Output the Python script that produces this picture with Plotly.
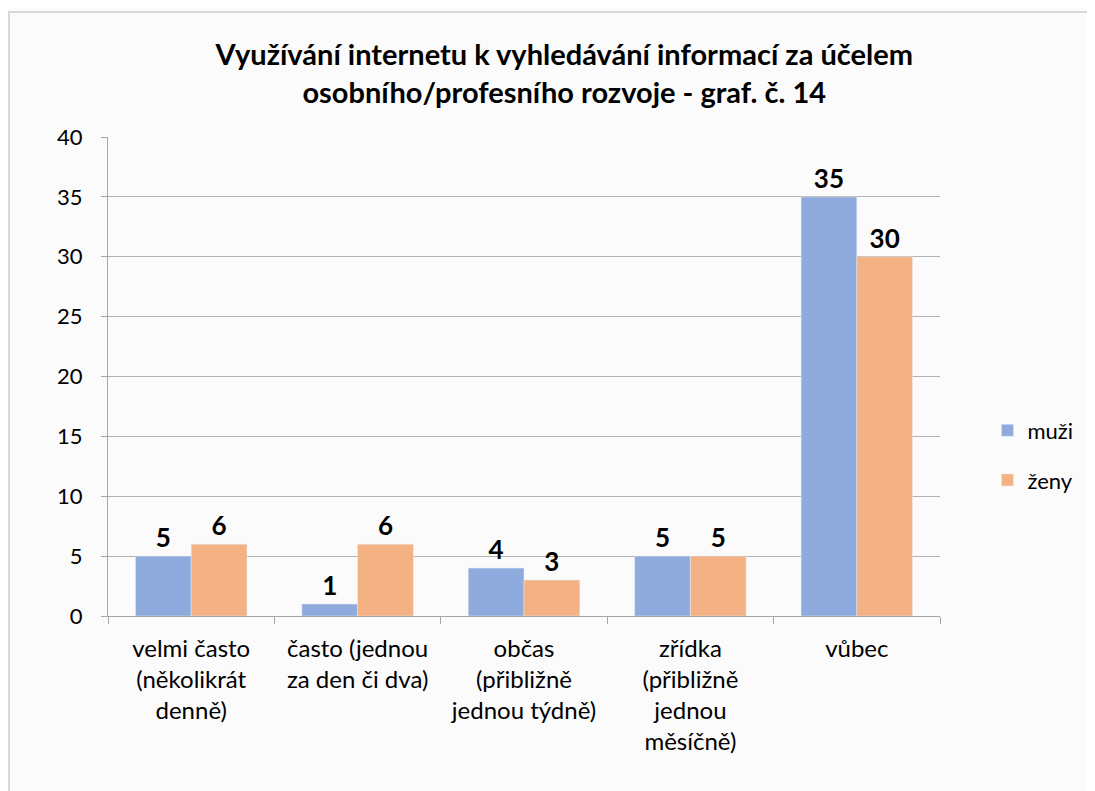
import plotly.graph_objects as go

categories = [
    "velmi často<br>(několikrát<br>denně)",
    "často (jednou<br>za den či dva)",
    "občas<br>(přibližně<br>jednou týdně)",
    "zřídka<br>(přibližně<br>jednou<br>měsíčně)",
    "vůbec",
]
muzi = [5, 1, 4, 5, 35]
zeny = [6, 6, 3, 5, 30]
title_text = "Využívání internetu k vyhledávání informací za účelem<br>osobního/profesního rozvoje - graf. č. 14"

FONT = "Lato, Open Sans, sans-serif"

fig = go.Figure()
fig.add_trace(go.Bar(
    x=categories, y=muzi, name="muži", marker_color="#8faadc", legendgroup="m",
    text=muzi, textposition="outside", cliponaxis=False,
    textfont=dict(size=26, color="black", family=FONT, weight="bold"),
))
fig.add_trace(go.Bar(
    x=categories, y=zeny, name="ženy", marker_color="#f4b183", legendgroup="z",
    text=zeny, textposition="outside", cliponaxis=False,
    textfont=dict(size=26, color="black", family=FONT, weight="bold"),
))

fig.update_layout(
    width=1095, height=791,
    margin=dict(l=100, r=163, t=129, b=183),
    paper_bgcolor="#fbfbfb", plot_bgcolor="#fbfbfb",
    font=dict(family=FONT, size=20, color="black"),
    title=dict(text=title_text, x=0.508, xanchor="center", y=0.928, yanchor="top",
               font=dict(size=29, family=FONT, color="black", weight="bold")),
    barmode="group", bargap=0.33, bargroupgap=0,
    legend=dict(x=1.057, xanchor="left", y=0.335, yanchor="middle",
                font=dict(size=22), tracegroupgap=18, itemwidth=30, bgcolor="rgba(0,0,0,0)"),
    showlegend=True,
)
fig.update_yaxes(range=[0, 40], dtick=5, showgrid=True, gridcolor="#b3b3b3", gridwidth=1,
                 showline=True, linecolor="#a6a6a6", ticks="outside", ticklen=6, tickcolor="#a6a6a6",
                 zeroline=False, tickfont=dict(size=22), ticklabelstandoff=14)
fig.update_xaxes(showline=True, linecolor="#a6a6a6", ticks="outside", ticklen=7, tickcolor="#a6a6a6",
                 tickson="boundaries", tickfont=dict(size=24), showgrid=False, ticklabelstandoff=11)

fig.add_shape(type="rect", xref="paper", yref="paper", x0=-0.119, x1=1.18, y0=-0.5, y1=1.261,
              line=dict(color="#d9d9d9", width=2), fillcolor="rgba(0,0,0,0)", layer="below")

fig.write_html("out.html")
